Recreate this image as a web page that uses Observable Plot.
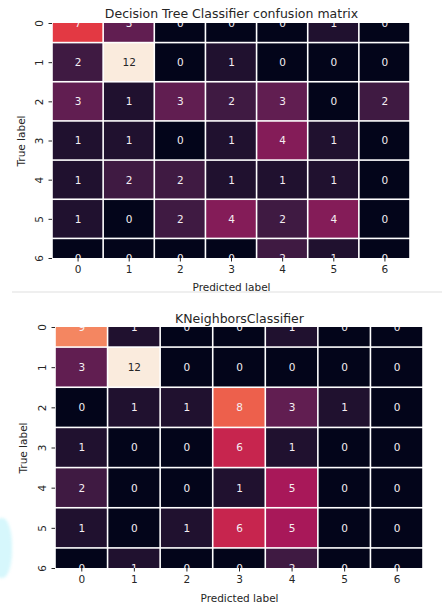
<!DOCTYPE html>
<html>
<head>
<meta charset="utf-8">
<script src="https://cdn.jsdelivr.net/npm/d3@7"></script>
<script src="https://cdn.jsdelivr.net/npm/@observablehq/plot@0.6"></script>
<style>
  html, body { margin: 0; padding: 0; background: #fff; }
  #wrap { position: relative; width: 442px; height: 605px; background: #fff; overflow: hidden; }
  .slot { position: absolute; left: 0; }
  #sep { position: absolute; left: 12px; top: 291px; width: 430px; height: 2px; background: #efefef; z-index: 2; }
  #blob { position: absolute; left: -9px; top: 518px; width: 21px; height: 60px; background: #d6f7fc; border-radius: 45%; filter: blur(1.5px); z-index: 2; }
</style>
</head>
<body>
<div id="wrap">
  <div id="top" class="slot" style="top:0"></div>
  <div id="sep"></div>
  <div id="bottom" class="slot" style="top:296px"></div>
  <div id="blob"></div>
</div>
<script>
// ---- data ----
const labels = [0, 1, 2, 3, 4, 5, 6];
const dtTitle = "Decision Tree Classifier confusion matrix";
const knnTitle = "KNeighborsClassifier";
const xLabel = "Predicted label";
const yLabel = "True label";
const dtMatrix = [
  [7, 3, 0, 0, 0, 1, 0],
  [2, 12, 0, 1, 0, 0, 0],
  [3, 1, 3, 2, 3, 0, 2],
  [1, 1, 0, 1, 4, 1, 0],
  [1, 2, 2, 1, 1, 1, 0],
  [1, 0, 2, 4, 2, 4, 0],
  [0, 0, 0, 0, 2, 1, 0]
];
const knnMatrix = [
  [9, 1, 0, 0, 1, 0, 0],
  [3, 12, 0, 0, 0, 0, 0],
  [0, 1, 1, 8, 3, 1, 0],
  [1, 0, 0, 6, 1, 0, 0],
  [2, 0, 0, 1, 5, 0, 0],
  [1, 0, 1, 6, 5, 0, 0],
  [0, 1, 0, 0, 2, 0, 0]
];
// seaborn "rocket" colormap stops
const rocketStops = [0, 1/7, 2/7, 3/7, 4/7, 5/7, 6/7, 1];
const rocketColors = ["#03051a", "#35193e", "#701f57", "#ad1759", "#e13342", "#f37651", "#f6b48f", "#faebdd"];

function toCells(m) {
  const out = [];
  m.forEach((row, r) => row.forEach((v, c) => out.push({row: labels[r], col: labels[c], value: v})));
  return out;
}

function lum(hex) {
  const c = d3.rgb(hex);
  const f = v => { v /= 255; return v <= 0.03928 ? v / 12.92 : Math.pow((v + 0.055) / 1.055, 2.4); };
  return 0.2126 * f(c.r) + 0.7152 * f(c.g) + 0.0722 * f(c.b);
}

function chart(matrix, title, o) {
  const cells = toCells(matrix);
  const vmin = d3.min(cells, d => d.value), vmax = d3.max(cells, d => d.value);
  const colorDomain = rocketStops.map(s => vmin + s * (vmax - vmin));
  const cfn = d3.scaleLinear().domain(colorDomain).range(rocketColors).interpolate(d3.interpolateRgb);
  const mid = {textAnchor: "middle", lineAnchor: "middle"};
  return Plot.plot({
    width: 442,
    height: o.height,
    marginLeft: o.left,
    marginRight: o.right,
    marginTop: o.top,
    marginBottom: o.bottom,
    style: {fontFamily: "'DejaVu Sans', sans-serif", fontSize: "10px", color: "#262626", background: "transparent"},
    x: {type: "linear", domain: [-0.5, 6.5]},
    y: {type: "linear", domain: [0, 6], reverse: true},
    color: {type: "linear", domain: colorDomain, range: rocketColors, interpolate: "rgb"},
    marks: [
      Plot.rect(cells, {
        x1: d => d.col - 0.5, x2: d => d.col + 0.5,
        y1: d => d.row - 0.5, y2: d => d.row + 0.5,
        fill: "value", inset: 0.8, clip: true
      }),
      Plot.text(cells, {
        x: "col", y: "row", text: d => String(d.value),
        fill: d => lum(cfn(d.value)) > 0.408 ? "#262626" : "#f4eef2",
        fontSize: 10.5, clip: true, ...mid
      }),
      Plot.axisX({ticks: labels, tickSize: 3.5, tickPadding: 4, tickFormat: d => String(d), label: null, fontSize: 10.5}),
      Plot.axisY({ticks: labels, tickSize: 3.5, tickFormat: () => "", label: null}),
      Plot.text(labels, {y: d => d, frameAnchor: "left", dx: -13, rotate: -90, text: d => String(d), fontSize: 10.5, ...mid}),
      Plot.text([title], {frameAnchor: "top", dy: o.titleDy, fontSize: 12.5, ...mid}),
      Plot.text([xLabel], {frameAnchor: "bottom", dy: o.xlabDy, fontSize: 10.5, ...mid}),
      Plot.text([yLabel], {frameAnchor: "left", dx: o.ylabDx, rotate: -90, fontSize: 10.5, ...mid})
    ]
  });
}

document.getElementById("top").append(chart(dtMatrix, dtTitle, {
  height: 292, left: 52, right: 32, top: 23, bottom: 34, titleDy: -10, xlabDy: 29, ylabDx: -31
}));
document.getElementById("bottom").append(chart(knnMatrix, knnTitle, {
  height: 309, left: 55, right: 19, top: 31, bottom: 37, titleDy: -9, xlabDy: 30, ylabDx: -32
}));
</script>
</body>
</html>
